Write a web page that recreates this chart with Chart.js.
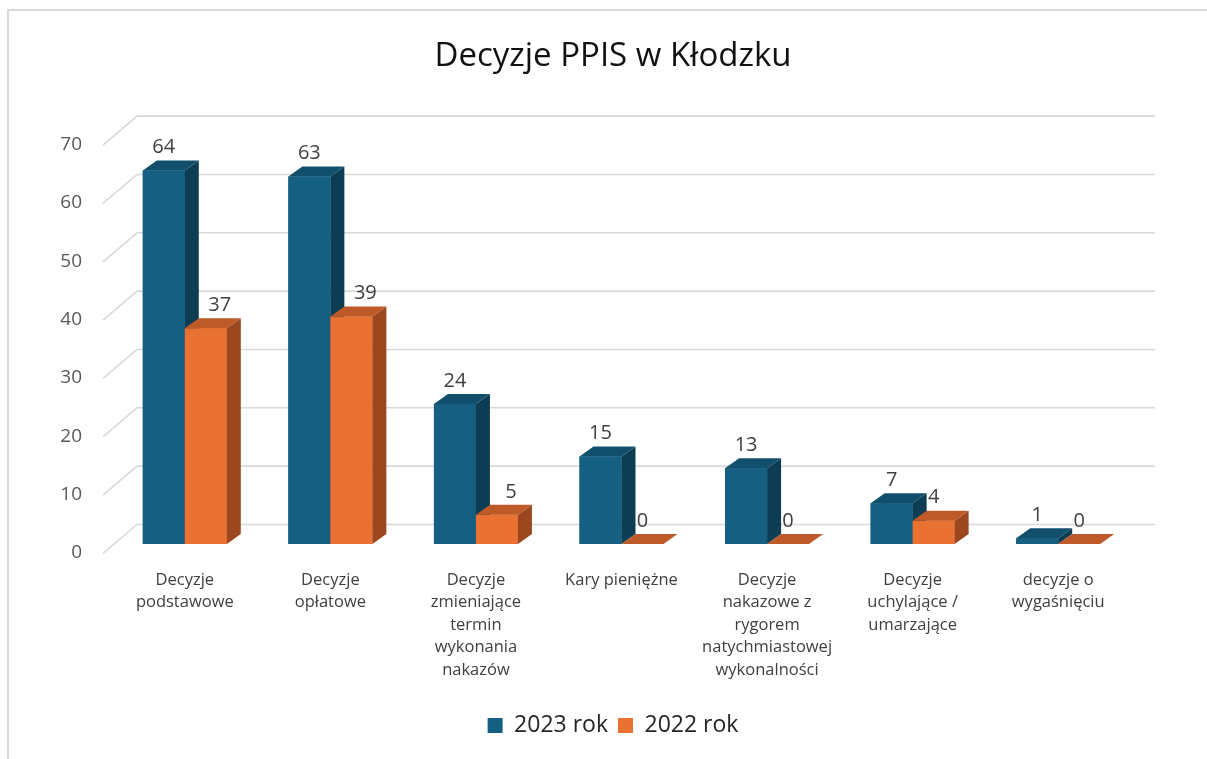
<!DOCTYPE html>
<html>
<head>
<meta charset="utf-8">
<script src="https://cdn.jsdelivr.net/npm/chart.js@4.4.1/dist/chart.umd.min.js"></script>
<style>
  html, body { margin: 0; padding: 0; background: #ffffff; }
  #wrap { position: relative; width: 1207px; height: 759px; }
  #frame { position: absolute; left: 7px; top: 9px; right: 0; bottom: 0;
           border-top: 2px solid #d9d9d9; border-left: 2px solid #d9d9d9; pointer-events: none; }
  canvas { position: absolute; left: 0; top: 0; }
</style>
</head>
<body>
<div id="wrap">
  <canvas id="c" width="1207" height="759"></canvas>
  <div id="frame"></div>
</div>
<script>
const categories = [
  ["Decyzje", "podstawowe"],
  ["Decyzje", "opłatowe"],
  ["Decyzje", "zmieniające", "termin", "wykonania", "nakazów"],
  ["Kary pieniężne"],
  ["Decyzje", "nakazowe z", "rygorem", "natychmiastowej", "wykonalności"],
  ["Decyzje", "uchylające /", "umarzające"],
  ["decyzje o", "wygaśnięciu"]
];
const values2023 = [64, 63, 24, 15, 13, 7, 1];
const values2022 = [37, 39, 5, 0, 0, 4, 0];
const seriesNames = ["2023 rok", "2022 rok"];
const yTicks = [0, 10, 20, 30, 40, 50, 60, 70];

const FRONT = ["#156082", "#e97132"];
const TOP = ["#114f6c", "#bd5a27"];
const SIDE = ["#0c3d53", "#9c471d"];
const DEPTH_X = 14, DEPTH_Y = -10;
const FONT = "'Open Sans', 'Liberation Sans', sans-serif";

const backWall = {
  id: 'backWall',
  beforeDatasetsDraw(chart) {
    const ctx = chart.ctx, a = chart.chartArea, ys = chart.scales.y;
    ctx.save();
    ctx.strokeStyle = '#d9d9d9';
    ctx.lineWidth = 1.6;
    yTicks.forEach(v => {
      const yb = ys.getPixelForValue(v) - 19.5;
      const xl = a.left + 25;
      ctx.beginPath();
      ctx.moveTo(xl - 34, yb + 29);
      ctx.lineTo(xl, yb);
      ctx.lineTo(a.right + 24, yb);
      ctx.stroke();
    });
    ctx.restore();
  }
};

// Re-draw bars in painter's order (category by category, series by series),
// adding the 3D side and top faces to each library bar element.
const bars3d = {
  id: 'bars3d',
  afterDatasetsDraw(chart) {
    const ctx = chart.ctx;
    const metas = chart.data.datasets.map((d, i) => chart.getDatasetMeta(i));
    const n = chart.data.labels.length;
    ctx.save();
    for (let i = 0; i < n; i++) {
      metas.forEach((meta, di) => {
        const el = meta.data[i];
        if (!el) return;
        el.draw(ctx);
        const p = el.getProps(['x', 'y', 'base', 'width'], true);
        const l = p.x - p.width / 2, r = p.x + p.width / 2;
        ctx.fillStyle = SIDE[di];
        ctx.beginPath();
        ctx.moveTo(r, p.y);
        ctx.lineTo(r + DEPTH_X, p.y + DEPTH_Y);
        ctx.lineTo(r + DEPTH_X, p.base + DEPTH_Y);
        ctx.lineTo(r, p.base);
        ctx.closePath();
        ctx.fill();
        ctx.fillStyle = TOP[di];
        ctx.beginPath();
        ctx.moveTo(l, p.y);
        ctx.lineTo(r, p.y);
        ctx.lineTo(r + DEPTH_X, p.y + DEPTH_Y);
        ctx.lineTo(l + DEPTH_X, p.y + DEPTH_Y);
        ctx.closePath();
        ctx.fill();
      });
    }
    ctx.restore();
  }
};

const valueLabels = {
  id: 'valueLabels',
  afterDatasetsDraw(chart) {
    const ctx = chart.ctx;
    ctx.save();
    ctx.font = "20px " + FONT;
    ctx.fillStyle = '#404040';
    ctx.textAlign = 'center';
    ctx.textBaseline = 'middle';
    chart.data.datasets.forEach((ds, di) => {
      const meta = chart.getDatasetMeta(di);
      meta.data.forEach((el, i) => {
        const v = ds.data[i];
        const shift = (di === 1 && v >= 5) ? 14 : 0;
        ctx.fillText(String(v), el.x + shift, el.y - 23);
      });
    });
    ctx.restore();
  }
};

new Chart(document.getElementById('c'), {
  type: 'bar',
  data: {
    labels: categories,
    datasets: [
      { label: seriesNames[0], data: values2023, backgroundColor: FRONT[0] },
      { label: seriesNames[1], data: values2022, backgroundColor: FRONT[1] }
    ]
  },
  options: {
    responsive: false,
    animation: false,
    devicePixelRatio: 1,
    layout: { padding: { left: 19, right: 0, top: 0, bottom: 12 } },
    datasets: { bar: { barPercentage: 1, categoryPercentage: 0.577, borderWidth: 0 } },
    scales: {
      x: {
        grid: { display: false, drawTicks: false },
        border: { display: false },
        afterFit(s) { s.height = 160; },
        ticks: {
          autoSkip: false, maxRotation: 0, minRotation: 0,
          padding: 25,
          color: '#404040',
          font: { family: FONT, size: 16.5, lineHeight: 1.36 }
        }
      },
      y: {
        min: 0, max: 70,
        afterFit(s) { s.width = 93; },
        grid: { display: false, drawTicks: false },
        border: { display: false },
        ticks: {
          stepSize: 10,
          padding: 30,
          labelOffset: 9,
          color: '#595959',
          font: { family: FONT, size: 19 }
        }
      },
      yR: {
        type: 'linear',
        position: 'right',
        min: 0, max: 70,
        afterFit(s) { s.width = 76; },
        grid: { display: false, drawTicks: false },
        border: { display: false },
        ticks: { display: false }
      }
    },
    plugins: {
      tooltip: { enabled: false },
      title: {
        display: true,
        text: 'Decyzje PPIS w Kłodzku',
        color: '#111111',
        font: { family: FONT, size: 33, weight: 'normal', lineHeight: 1.2 },
        padding: { top: 37, bottom: 59 }
      },
      legend: {
        position: 'bottom',
        labels: {
          boxWidth: 15, boxHeight: 15,
          padding: 10,
          color: '#262626',
          font: { family: FONT, size: 23 }
        }
      }
    }
  },
  plugins: [backWall, bars3d, valueLabels]
});
</script>
</body>
</html>
